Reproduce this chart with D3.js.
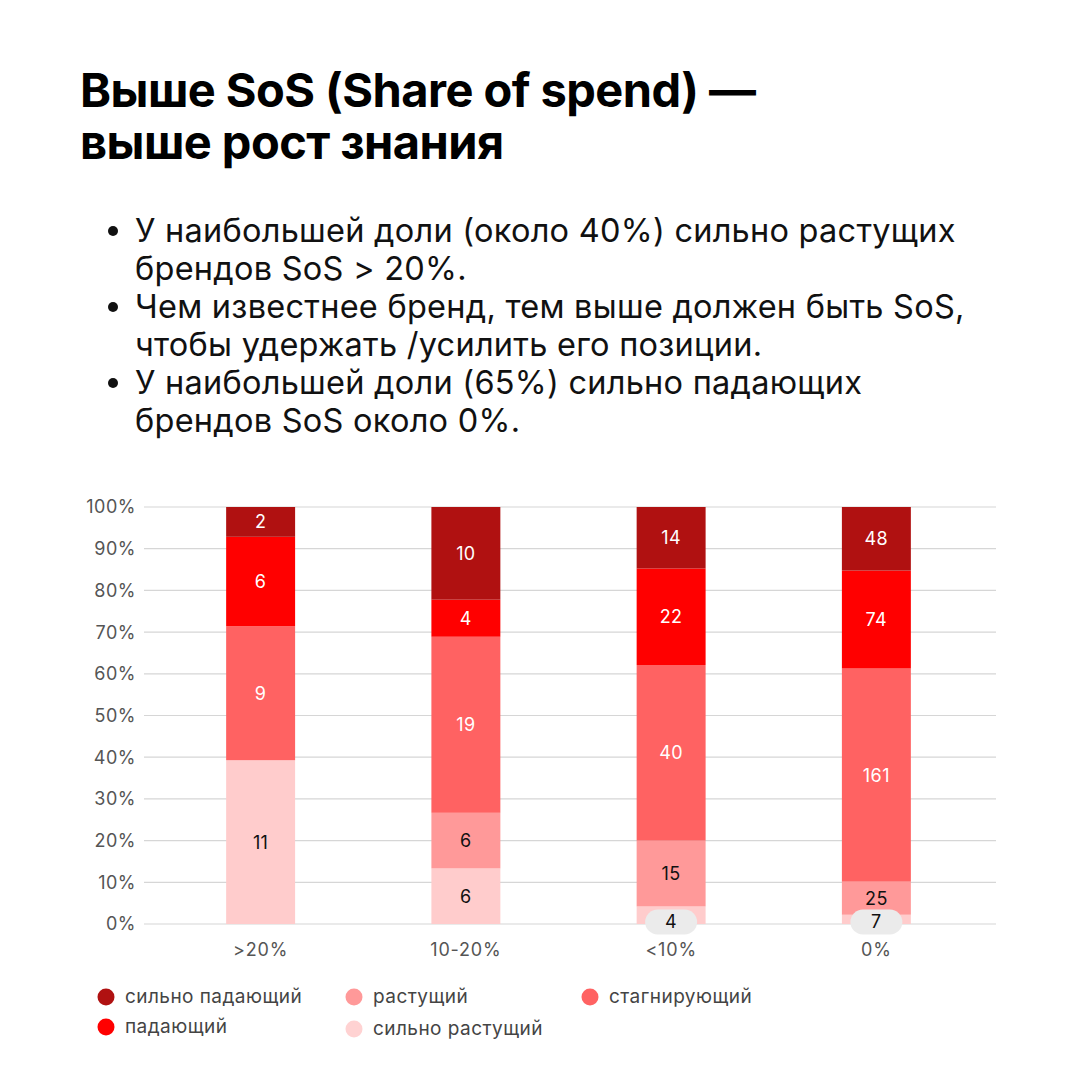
<!DOCTYPE html>
<html>
<head>
<meta charset="utf-8">
<script src="https://cdn.jsdelivr.net/npm/d3@7"></script>
<style>
  html, body { margin: 0; padding: 0; background: #fff; }
  svg { display: block; font-family: Inter, "Noto Sans", sans-serif; }
</style>
</head>
<body>
<div id="chart"></div>
<script>
// data
const categories = ['>20%', '10-20%', '<10%', '0%'];
const seriesNames = ['сильно растущий', 'растущий', 'стагнирующий', 'падающий', 'сильно падающий'];
const strongGrowth = [11, 6, 4, 7];
const growth = [0, 6, 15, 25];
const stagnant = [9, 19, 40, 161];
const falling = [6, 4, 22, 74];
const strongFalling = [2, 10, 14, 48];
const yTicks = [0, 0.1, 0.2, 0.3, 0.4, 0.5, 0.6, 0.7, 0.8, 0.9, 1];

const titleLines = ['Выше SoS (Share of spend) —', 'выше рост знания'];
const bulletLines = [
  ['У наибольшей доли (около 40%) сильно растущих', 'брендов SoS > 20%.'],
  ['Чем известнее бренд, тем выше должен быть SoS,', 'чтобы удержать /усилить его позиции.'],
  ['У наибольшей доли (65%) сильно падающих', 'брендов SoS около 0%.'],
];

const colours = ['#ffcccc', '#ff9999', '#ff6262', '#ff0000', '#b01111'];
const labelColours = ['#111', '#111', '#fff', '#fff', '#fff'];

const width = 1080;
const height = 1080;

const svg = d3.select('#chart').append('svg')
  .attr('width', width)
  .attr('height', height);

// title
svg.append('g').selectAll('text')
  .data(titleLines)
  .enter().append('text')
  .attr('x', 80)
  .attr('y', (d, i) => 107 + i * 52)
  .attr('font-size', 47)
  .attr('font-weight', 700)
  .attr('letter-spacing', -0.55)
  .attr('fill', '#000')
  .text(d => d);

// bullets
const bullets = svg.append('g');
bulletLines.forEach((lines, bi) => {
  const top = 242 + bi * 76;
  bullets.append('circle')
    .attr('cx', 113)
    .attr('cy', top - 11)
    .attr('r', 5)
    .attr('fill', '#111');
  lines.forEach((line, li) => {
    bullets.append('text')
      .attr('x', 135)
      .attr('y', top + li * 38)
      .attr('font-size', 32.5)
      .attr('letter-spacing', 0.25)
      .attr('fill', '#111')
      .text(line);
  });
});

// chart
const dim = { left: 144, right: 996, top: 507, bottom: 924 };

const rows = categories.map((c, i) => {
  const row = { category: c };
  row[seriesNames[0]] = strongGrowth[i];
  row[seriesNames[1]] = growth[i];
  row[seriesNames[2]] = stagnant[i];
  row[seriesNames[3]] = falling[i];
  row[seriesNames[4]] = strongFalling[i];
  return row;
});

const stacked = d3.stack()
  .keys(seriesNames)
  .offset(d3.stackOffsetExpand)(rows);

const xScale = d3.scaleBand()
  .domain(categories)
  .range([158, 979])
  .paddingInner(0.664)
  .paddingOuter(0.332);

const yScale = d3.scaleLinear()
  .domain([0, 1])
  .range([dim.bottom, dim.top]);

// grid + y labels
const yAxis = svg.append('g');
yAxis.selectAll('line')
  .data(yTicks)
  .enter().append('line')
  .attr('x1', dim.left)
  .attr('x2', dim.right)
  .attr('y1', d => yScale(d))
  .attr('y2', d => yScale(d))
  .attr('stroke', '#d6d6d6')
  .attr('stroke-width', 1.2);

yAxis.selectAll('text')
  .data(yTicks)
  .enter().append('text')
  .attr('x', 136)
  .attr('y', d => yScale(d))
  .attr('dy', '0.36em')
  .attr('text-anchor', 'end')
  .attr('font-size', 18)
  .attr('letter-spacing', 0.5)
  .attr('fill', '#555')
  .text(d => d3.format('.0%')(d));

// bars
const seriesGroup = svg.append('g');
stacked.forEach((layer, si) => {
  seriesGroup.append('g')
    .selectAll('rect')
    .data(layer)
    .enter().append('rect')
    .attr('x', d => xScale(d.data.category))
    .attr('width', xScale.bandwidth())
    .attr('y', d => yScale(d[1]))
    .attr('height', d => yScale(d[0]) - yScale(d[1]))
    .attr('fill', colours[si]);
});

// value labels
const labels = svg.append('g');
stacked.forEach((layer, si) => {
  layer.forEach(d => {
    const value = d.data[layer.key];
    if (!value) return;
    const cx = xScale(d.data.category) + xScale.bandwidth() / 2;
    const h = yScale(d[0]) - yScale(d[1]);
    let cy = (yScale(d[0]) + yScale(d[1])) / 2;
    if (h < 20) {
      cy = dim.bottom - 2;
      labels.append('rect')
        .attr('x', cx - 26)
        .attr('y', cy - 12.5)
        .attr('width', 52)
        .attr('height', 25)
        .attr('rx', 12.5)
        .attr('fill', '#ebebeb');
    }
    labels.append('text')
      .attr('x', cx)
      .attr('y', cy)
      .attr('dy', '0.36em')
      .attr('text-anchor', 'middle')
      .attr('font-size', 18)
      .attr('letter-spacing', 0.4)
      .attr('fill', h < 20 ? '#111' : labelColours[si])
      .text(value);
  });
});

// x labels
svg.append('g').selectAll('text')
  .data(categories)
  .enter().append('text')
  .attr('x', d => xScale(d) + xScale.bandwidth() / 2)
  .attr('y', 950)
  .attr('dy', '0.36em')
  .attr('text-anchor', 'middle')
  .attr('font-size', 18)
  .attr('letter-spacing', 0.8)
  .attr('fill', '#555')
  .text(d => d);

// legend
const legendItems = [
  { name: 'сильно падающий', colour: '#b01111', x: 106, y: 997 },
  { name: 'растущий', colour: '#ff9999', x: 354, y: 997 },
  { name: 'стагнирующий', colour: '#ff6262', x: 590, y: 997 },
  { name: 'падающий', colour: '#ff0000', x: 106, y: 1027 },
  { name: 'сильно растущий', colour: '#ffd2d2', x: 354, y: 1029 },
];
const legend = svg.append('g');
legendItems.forEach(item => {
  legend.append('circle')
    .attr('cx', item.x)
    .attr('cy', item.y)
    .attr('r', 8.5)
    .attr('fill', item.colour);
  legend.append('text')
    .attr('x', item.x + 19)
    .attr('y', item.y - 1)
    .attr('dy', '0.36em')
    .attr('font-size', 19)
    .attr('letter-spacing', 0.45)
    .attr('fill', '#444')
    .text(item.name);
});
</script>
</body>
</html>
